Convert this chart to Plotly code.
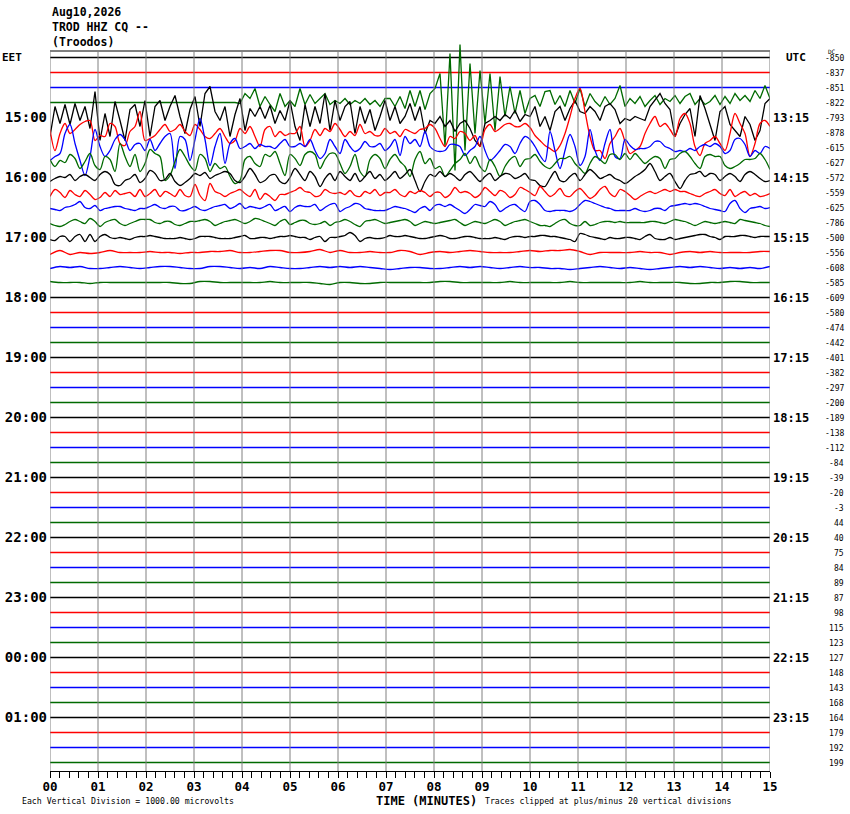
import numpy as np
import plotly.graph_objects as go

# helicorder TROD HHZ, 48 lines of 15 minutes, offsets (px, up = +)
TITLE_LINES = ["Aug10,2026", "TROD HHZ CQ --", "(Troodos)"]
MINUTE_LABELS = ["%02d" % m for m in range(16)]
EET_LABELS = ["15:00", "16:00", "17:00", "18:00", "19:00", "20:00",
              "21:00", "22:00", "23:00", "00:00", "01:00"]
UTC_LABELS = ["13:15", "14:15", "15:15", "16:15", "17:15", "18:15",
              "19:15", "20:15", "21:15", "22:15", "23:15"]
DC_VALUES = [-850, -837, -851, -822, -793, -878, -615, -627, -572, -559, -625, -786,
             -500, -556, -608, -585, -609, -580, -474, -442, -401, -382, -297, -200,
             -189, -138, -112, -84, -39, -20, -3, 44, 40, 75, 84, 89,
             87, 98, 115, 123, 127, 148, 143, 168, 164, 179, 192, 199]

FLAT = [0, 0]

ROW_03_GREEN = [0] * 38 + [
    -1, 9, 4, 14, -4, 6, -2, -9, 9, -4, 2,
    -4, 14, -2, 8, -1, 4, 9, -2, 2, -1, 4, -2, 2, -1, 4, -2, 2, -4, 4, 4,
    -4, 6, -6, 12, -4, 12, -7, 9, 14, 29, -44, 49, -68, 58, -48, 39, -31, 32, -21, 29,
    -28, 26, -14, 16, -11, 12, -11, 4,
    7, -4, 11, 12, -2, 7, -4, 12, -1, 14, -4, 9, 1, -4, 6, -2, 4, 17, -4, 4,
    -1, 6, -4, 2, 7, -2, 4, 1, 7, -1, 6, 9, -2, 4, -2, 1, 7, -2, 6, -1,
    9, 2, 7, 1, 12, 4, 17, 4]

ROW_04_BLACK = [
    -19, 11, -6, 13, -7, 14, -3, 11, -11, 26, -23, 4, -19, 16, -3, -23, 8, 13, -9, 17,
    -19, 11, 17, -3, 11, 22, 1, -16, 8, 21, -9, 24, 31, 6, -3, 11, -19, 3, 19, -13,
    9, 1, 11, -1, 12, -6, 7, -3, 17,
    -9, -23, 13, -9, 11, -6, 24, -13, 17, -3, 11, 16, -16, 11, -6, 8, -13, 1, 17, -3,
    11, -6, 1, 14, -3, 11, -16, -3, -6, 1, -9, -3, -14, -6, -3, -11, -23, -29, -6, -3,
    1, -3, 3, -1, 7, -4, 3, 1,
    11, -9, 1, -13, 6, 11, -3, 9, 17, 6, 4, 11, 6, -3, 11, 14, 8, -6, -1, -3,
    1, -1, -3, 11, 17, 24, 14, 8, -19, -6, 3, 9, -19, 22, 9, -6, -23, 6, 11, -7,
    -13, -19, 1, -7, -23, -13, 14, 19]

ROW_05_RED = [
    3, -18, -1, 9, -1, 3, 8, 11, 12, -8, -3, -4, 9, 6, -11, -13, 1, 6, 21, -8,
    -6, -3, 3, 8, 1, 3, 8, 1, -3, 8, 3, -4, -6, -1, 4, -4, -11, -8, 4, -1,
    6, -4, -14, 3, 6, -4, 1, -3, -1,
    -1, 6, -14, -8, 3, -3, 4, 1, 9, 3, -4, 1, -3, 8, -1, 1, -3, -3, 4, -1,
    1, -4, 3, 1, -1, 3, 4, 8, 4, -6, -14, -4, -6, 1, -1, -8, -3, -14, 3, 8,
    1, 4, 8, 9, 6, 6, 9, 5,
    -3, -8, -13, -16, -19, -13, -1, 16, 34, 44, 21, -4, -18, -18, -26, -11, -4, 4, -9, -21,
    -18, -14, -1, 9, 16, 6, 9, 3, -4, 14, 19, 9, -14, -23, -11, -8, -4, -11, -18, -1,
    19, 9, -1, -24, -11, 9, 12, 6]

ROW_06_BLUE = [
    -13, -9, -6, 14, 23, 4, -13, -28, -9, 18, 1, -9, -3, 8, 13, 8, -3, 3, 4, -3,
    8, -3, 4, 11, 14, -21, 11, 8, -13, 8, 29, 8, -18, 1, 14, -16, 4, 9, -1, 1,
    4, -1, 3, 1, 1, -1, 4, 8, 1,
    1, 4, 1, 8, -3, -11, -6, 8, 1, -6, 8, 1, -4, -1, 6, 1, 1, 4, -3, 1,
    8, -8, 11, 4, 8, 1, 16, 1, -3, -4, -3, 3, 3, 1, -8, -3, 1, 11, -3, -13,
    -9, -3, 3, 1, -6, 4, 11, 8,
    1, -8, -14, 16, -3, -21, -3, 13, 1, -18, -9, 18, -3, -13, 4, 18, -9, -11, 8, 2,
    -2, -1, -1, 1, 6, 6, 1, -1, -4, -3, -4, -1, -3, 1, 3, 1, 4, 1, -6, -3,
    8, 9, 3, -9, -3, -6, 1, -1]

ROW_07_GREEN = [
    3, -4, 2, 0, 8, 4, -6, 1, 9, -3, -7, 6, 3, -9, 19, 6, -4, 8, -9, -1,
    13, 9, 6, -18, -13, 1, 13, 6, -3, -8, 8, 4, -9, -1, -6, -4, -14, -21, -18, 3,
    6, -1, -4, 8, 6, 11, -1, -13, 8,
    4, -3, 8, 11, 8, -6, 3, 9, 9, -1, -11, -4, 8, -9, -14, 3, 8, 4, -6, 3,
    8, 1, -4, -14, 3, 11, -1, 4, -6, -4, -14, -8, -1, 3, 9, -1, 6, -4, -9, 3,
    -4, -14, -4, 3, 6, -4, 3, 4,
    8, 1, -4, -6, -1, 4, 4, 6, -1, -6, -11, -1, 6, 3, -1, 8, 8, 3, 9, 3,
    9, 4, -1, 3, 6, 4, -6, 3, 4, 9, 11, 6, -1, -6, 6, 8, 6, 6, -3, -6,
    -4, -1, 3, 3, 4, 9, 3, -7]

ROW_08_BLACK = [
    -4, -1, 1, 0, 3, -3, 1, 3, 0, -3, 3, 6, 3, -7, -8, -3, -1, 3, -5, -1,
    7, 4, -3, -2, 4, -4, -8, -5, -1, 4, 2, 5, -1, 2, 4, 6, 4, -3, -5, 1,
    9, 3, -5, -3, 2, 3, -4, -6, 0,
    9, 3, -3, 6, 1, -9, -1, 4, -3, 6, 1, -3, 4, -4, 1, 6, -1, 3, -3, 1,
    6, -1, 3, 8, -3, -14, -4, 3, 1, 6, 1, 4, 1, -3, 3, 6, 1, -4, 1, 4,
    -3, 1, 4, 3, -1, 1, 4, -2,
    -3, -8, -9, -1, 6, -3, -4, 1, 4, -3, 3, 8, 4, -1, 1, 3, -1, -3, -6, -3,
    1, 4, 8, 14, 6, -3, 1, 4, -4, -11, -3, 3, 4, 6, 1, 4, 3, -3, 1, 4,
    1, -4, 3, 6, 3, -1, -4, -3]

ROW_09_RED = [
    -4, 3, 0, -5, 2, -2, -4, 2, -2, -7, -5, 0, -4, 2, -2, -1, 0, -4, 3, -4,
    -1, 3, -4, 1, -1, -4, 3, -3, -4, 8, -3, -8, 9, 1, -1, -4, -1, 1, 3, -1,
    -4, 3, -7, -1, -4, -8, -2, -2, 0,
    2, 5, 1, 0, -4, -3, 3, 0, -1, 0, -2, 2, -3, -4, 1, -1, 3, -3, 0, 0,
    3, -2, -4, 1, -1, 2, 0, -4, 0, 0, -5, -2, 5, 0, 1, -1, -5, -2, 5, 1,
    -3, 2, 0, -5, -2, 5, 3, 0,
    -3, 6, 1, -4, -1, 4, -3, -4, 1, 4, -1, -6, -3, 3, 6, -1, -4, 3, 1, -3,
    -7, -4, -1, 1, -1, 1, 3, 1, 3, 1, 1, -1, -3, -4, -1, 1, 3, -1, -3, 3,
    -4, -1, 1, -3, -1, -4, -3, -1]

ROW_10_BLUE = [
    -1, -2, -3, 0, 1, 3, 6, 0, -1, 2, -3, -1, 0, 1, 1, -1, -2, -3, -1, -1,
    1, 3, 0, -1, 1, 1, -3, -3, -1, 1, -2, -3, -1, 1, 2, 3, -1, 1, 4, -1,
    1, 0, -1, 1, 3, -3, -1, 1, -4,
    0, 2, 1, 1, 3, -3, 0, 3, 4, -4, -1, 1, 4, 3, -1, -2, -3, -3, -3, -1,
    1, 0, -1, -3, -5, -1, 1, -3, 2, 3, 1, 3, 0, -3, -6, -2, 3, 2, 1, 6,
    3, -4, -1, 2, 3, -1, -4, 6,
    7, 3, -3, -4, -3, -3, -3, -4, -2, 3, 7, 6, 4, 2, 0, -1, -3, -3, -3, -3,
    -1, -3, -4, -3, -1, -1, -3, 1, 2, 3, 4, 3, 4, 3, 1, -1, -2, -3, -4, 4,
    7, -1, -5, -1, 0, 1, -1, 0]

ROW_11_GREEN = [
    -1, -3, -4, -2, 1, 3, 1, -1, 4, 1, -4, 0, 2, 3, -1, -3, -1, 1, 3, 3,
    3, 0, -1, 1, 1, -2, -3, -1, 1, 1, 2, 3, 1, -3, -1, 1, 2, 3, 1, -1,
    1, 4, 3, 1, -1, -3, 1, 3, -2,
    0, 2, 2, -1, -2, -1, 1, -3, 0, 1, 3, 1, -2, -4, 1, 2, 3, 1, -1, 0,
    1, 2, 3, 1, -3, -1, 1, 0, -1, 0, 1, 2, 3, 0, -3, -1, 1, 0, -1, 1,
    3, 1, -3, -1, 1, 2, 3, 1,
    -1, -3, -3, -4, -1, 2, 3, -1, -3, -3, 1, -3, -2, 0, 1, 1, 0, 1, 0, 0,
    0, 0, 0, 1, 1, 0, -1, 1, 3, 2, 1, -1, -3, -1, 1, 0, -1, 0, 1, 0,
    -1, 3, 2, 1, 0, -1, -3, -4]

ROW_12_BLACK = [
    -2, -3, 1, 1, -4, 1, 3, -4, 3, -4, 1, 3, 0, -1, 0, -1, -2, 0, 1, 1,
    2, 1, 0, -1, -1, -1, 0, -1, -2, -1, 1, 1, 1, 0, -1, -1, -1, 0, 1, 2,
    -1, -1, 0, 0, -1, 0, 1, 1, 2, 1, 0, 0, -2, 0, 1, -4, 0, 0, 1, 2,
    5, 2, -4, -1, 0, -1, -1, 0, 2, 1, 1, 2, 1,
    0, -1, -1, 0, 1, 2, 1, -1, -1, 0, 1, 1, 0, -1, -1, -1, 0, -1, -2, 0,
    1, 1, 0, 1, 1, 2, 2, 1, 1, 0, -1, -2, -4, 4, 3, 1, 0, -1, -2, 0,
    -1, -1, 0, 0, -1, -2, 1, 3, -1, -2, -2, 0, -2, -1, 0, 1, 2, 3, 3, 1,
    0, -2, 1, 1, 1, 2, 2, 1, 0, 1, 1, 1]

ROW_13_RED = [
    -2, 2, -2, 0, -1, 0, 2, 0, 0, 0, 1, 0, 0, -1, 0, 0, 1, 1, 2, 0,
    0, 1, 2, 2, 0, 0, 1, 3, 0, 2, 0, 0, 1, 0, 0, 2, 1,
    -2, 0, 1, 0, 1, 2, 1, 0, 0, 0, 1, 2, 1, 2, 2, 3, 1, -2, 0, 0,
    0, 0, 1, 0, 0, -2, 0, 1, 0, 1, 0, 0, 0, 0, 1, 1]

ROW_14_BLUE = [
    -1, 1, 0, 1, -1, -1, 0, 1, 0, -1, 0, 1, 1, 0, -1, -1, 1, 1, 0, -1,
    0, -1, 1, 0, -1, -1, 0, 1, 0, 1, 0, 1, 0, -1, -2, -1, 0,
    0, -1, -1, 0, 1, 0, 1, 0, -1, 0, 1, 0, 0, -1, -1, -2, -1, 0, 1, 0,
    -1, 0, -1, -2, -1, 0, 1, 0, 1, 0, -1, 0, -1, 0, -1, 1]

ROW_15_GREEN = [
    1, 0, 0, 0, -1, 0, 0, 0, 0, 0, 0, 0, 0, -1, -1, 1, 1, 0, 0, 0,
    0, 0, 1, 0, 0, 0, 0, -1, -2, 0, 0, -1, -1, 0, 0, 0, 0,
    0, 0, 1, 1, 0, 0, 0, 0, 0, 1, 0, 0, 0, 0, 0, 1, 0, 0, 0, 0,
    0, 0, 1, 0, 0, 0, 0, -1, -1, 0, 0, 1, 1, 0, 0, 0]

ACTIVE_ROWS = {3: ROW_03_GREEN, 4: ROW_04_BLACK, 5: ROW_05_RED, 6: ROW_06_BLUE,
               7: ROW_07_GREEN, 8: ROW_08_BLACK, 9: ROW_09_RED, 10: ROW_10_BLUE,
               11: ROW_11_GREEN, 12: ROW_12_BLACK, 13: ROW_13_RED, 14: ROW_14_BLUE,
               15: ROW_15_GREEN}
SPIKY_ROWS = (3, 4)

N_ROWS = 48
COLORS = ["#000000", "#ff0000", "#0000ff", "#006a00"]

# page geometry (pixels)
W, H = 850, 814
L, R, T, B = 50, 80, 40, 43
ROW_PX = 15.0
ROW0_Y = 57.5
FRAME_Y = 51
PW, PH = W - L - R, H - T - B


def px(x):
    return (x - L) / PW


def py(y):
    return (H - B - y) / PH


y_top = (ROW0_Y - T) / ROW_PX
y_bot = -(H - B - ROW0_Y) / ROW_PX
frame_top = (ROW0_Y - FRAME_Y) / ROW_PX

fig = go.Figure()

for i in range(N_ROWS):
    vals = np.array(ACTIVE_ROWS.get(i, FLAT), dtype=float)
    t = np.linspace(0, 15, len(vals))
    shape = "linear" if i in SPIKY_ROWS else "spline"
    fig.add_trace(go.Scatter(x=t, y=-i + vals / ROW_PX, mode="lines",
                             line=dict(color=COLORS[i % 4], width=1.3, shape=shape,
                                       smoothing=0.9 if shape == "spline" else None),
                             hoverinfo="skip", showlegend=False))

# empty trace so the right-hand UTC axis is drawn
fig.add_trace(go.Scatter(x=[], y=[], yaxis="y2", showlegend=False))

shapes = []
for m in range(16):
    shapes.append(dict(type="line", xref="x", yref="y", x0=m, x1=m, y0=frame_top, y1=y_bot,
                       line=dict(color="#808080", width=1), layer="above"))
shapes.append(dict(type="line", xref="x", yref="y", x0=0, x1=15, y0=frame_top, y1=frame_top,
                   line=dict(color="#000000", width=1), layer="below"))

mono = "DejaVu Sans Mono"
ann = []
for k, line in enumerate(TITLE_LINES):
    ann.append(dict(text=line, xref="paper", yref="paper", x=px(50), y=py(12 + 15 * k),
                    xanchor="left", yanchor="middle", showarrow=False,
                    font=dict(family=mono, size=11.5, weight="bold", color="black")))
ann.append(dict(text="EET", xref="paper", yref="paper", x=px(0), y=py(ROW0_Y),
                xanchor="left", yanchor="middle", showarrow=False,
                font=dict(family=mono, size=11, weight="bold", color="black")))
ann.append(dict(text="UTC", xref="paper", yref="paper", x=px(796), y=py(ROW0_Y),
                xanchor="center", yanchor="middle", showarrow=False,
                font=dict(family=mono, size=11, weight="bold", color="black")))
ann.append(dict(text="DC", xref="paper", yref="paper", x=px(826), y=py(51),
                xanchor="left", yanchor="middle", showarrow=False,
                font=dict(family=mono, size=6, color="black")))
for i, dc in enumerate(DC_VALUES):
    ann.append(dict(text=str(dc), xref="paper", yref="y", x=px(846), y=-i - 0.05,
                    xanchor="right", yanchor="middle", showarrow=False,
                    font=dict(family=mono, size=8, color="black")))
ann.append(dict(text="TIME (MINUTES)", xref="paper", yref="paper", x=px(426), y=py(801),
                xanchor="center", yanchor="middle", showarrow=False,
                font=dict(family=mono, size=12, weight="bold", color="black")))
ann.append(dict(text="Each Vertical Division = 1000.00 microvolts", xref="paper", yref="paper",
                x=px(20), y=py(801), xanchor="left", yanchor="middle", showarrow=False,
                font=dict(family=mono, size=8.2, color="black")))
ann.append(dict(text="Traces clipped at plus/minus 20 vertical divisions", xref="paper",
                yref="paper", x=px(483), y=py(801), xanchor="left", yanchor="middle",
                showarrow=False, font=dict(family=mono, size=8.2, color="black")))

hour_rows = [-4 * (k + 1) for k in range(len(EET_LABELS))]

fig.update_layout(
    width=W, height=H,
    margin=dict(l=L, r=R, t=T, b=B, autoexpand=False),
    paper_bgcolor="white", plot_bgcolor="white",
    shapes=shapes, annotations=ann,
    xaxis=dict(range=[0, 15], showgrid=False, zeroline=False, automargin=False,
               showline=True, linecolor="black", linewidth=1,
               tickmode="array", tickvals=list(range(16)), ticktext=MINUTE_LABELS,
               ticks="outside", ticklen=6, tickcolor="black", ticklabelstandoff=-2,
               tickfont=dict(family=mono, size=12.5, weight="bold", color="black"),
               minor=dict(tickmode="linear", tick0=0, dtick=0.2, ticks="outside",
                          ticklen=6, tickcolor="black", showgrid=False)),
    yaxis=dict(range=[y_bot, y_top], showgrid=False, zeroline=False, showline=False,
               automargin=False,
               tickmode="array", tickvals=hour_rows, ticktext=EET_LABELS, ticks="",
               ticklabelstandoff=2,
               tickfont=dict(family=mono, size=14, weight="bold", color="black")),
    yaxis2=dict(range=[y_bot, y_top], overlaying="y", side="right", showgrid=False,
                zeroline=False, showline=False, automargin=False,
                tickmode="array", tickvals=hour_rows,
                ticktext=UTC_LABELS, ticks="", ticklabelstandoff=2,
                tickfont=dict(family=mono, size=12, weight="bold", color="black")),
)

# the page body has a default 8px margin; drop it so the figure sits at the corner
fig.write_html("out.html", config={"displayModeBar": False},
               post_script="document.body.style.margin='0px';"
                           "document.body.style.overflow='hidden';")
